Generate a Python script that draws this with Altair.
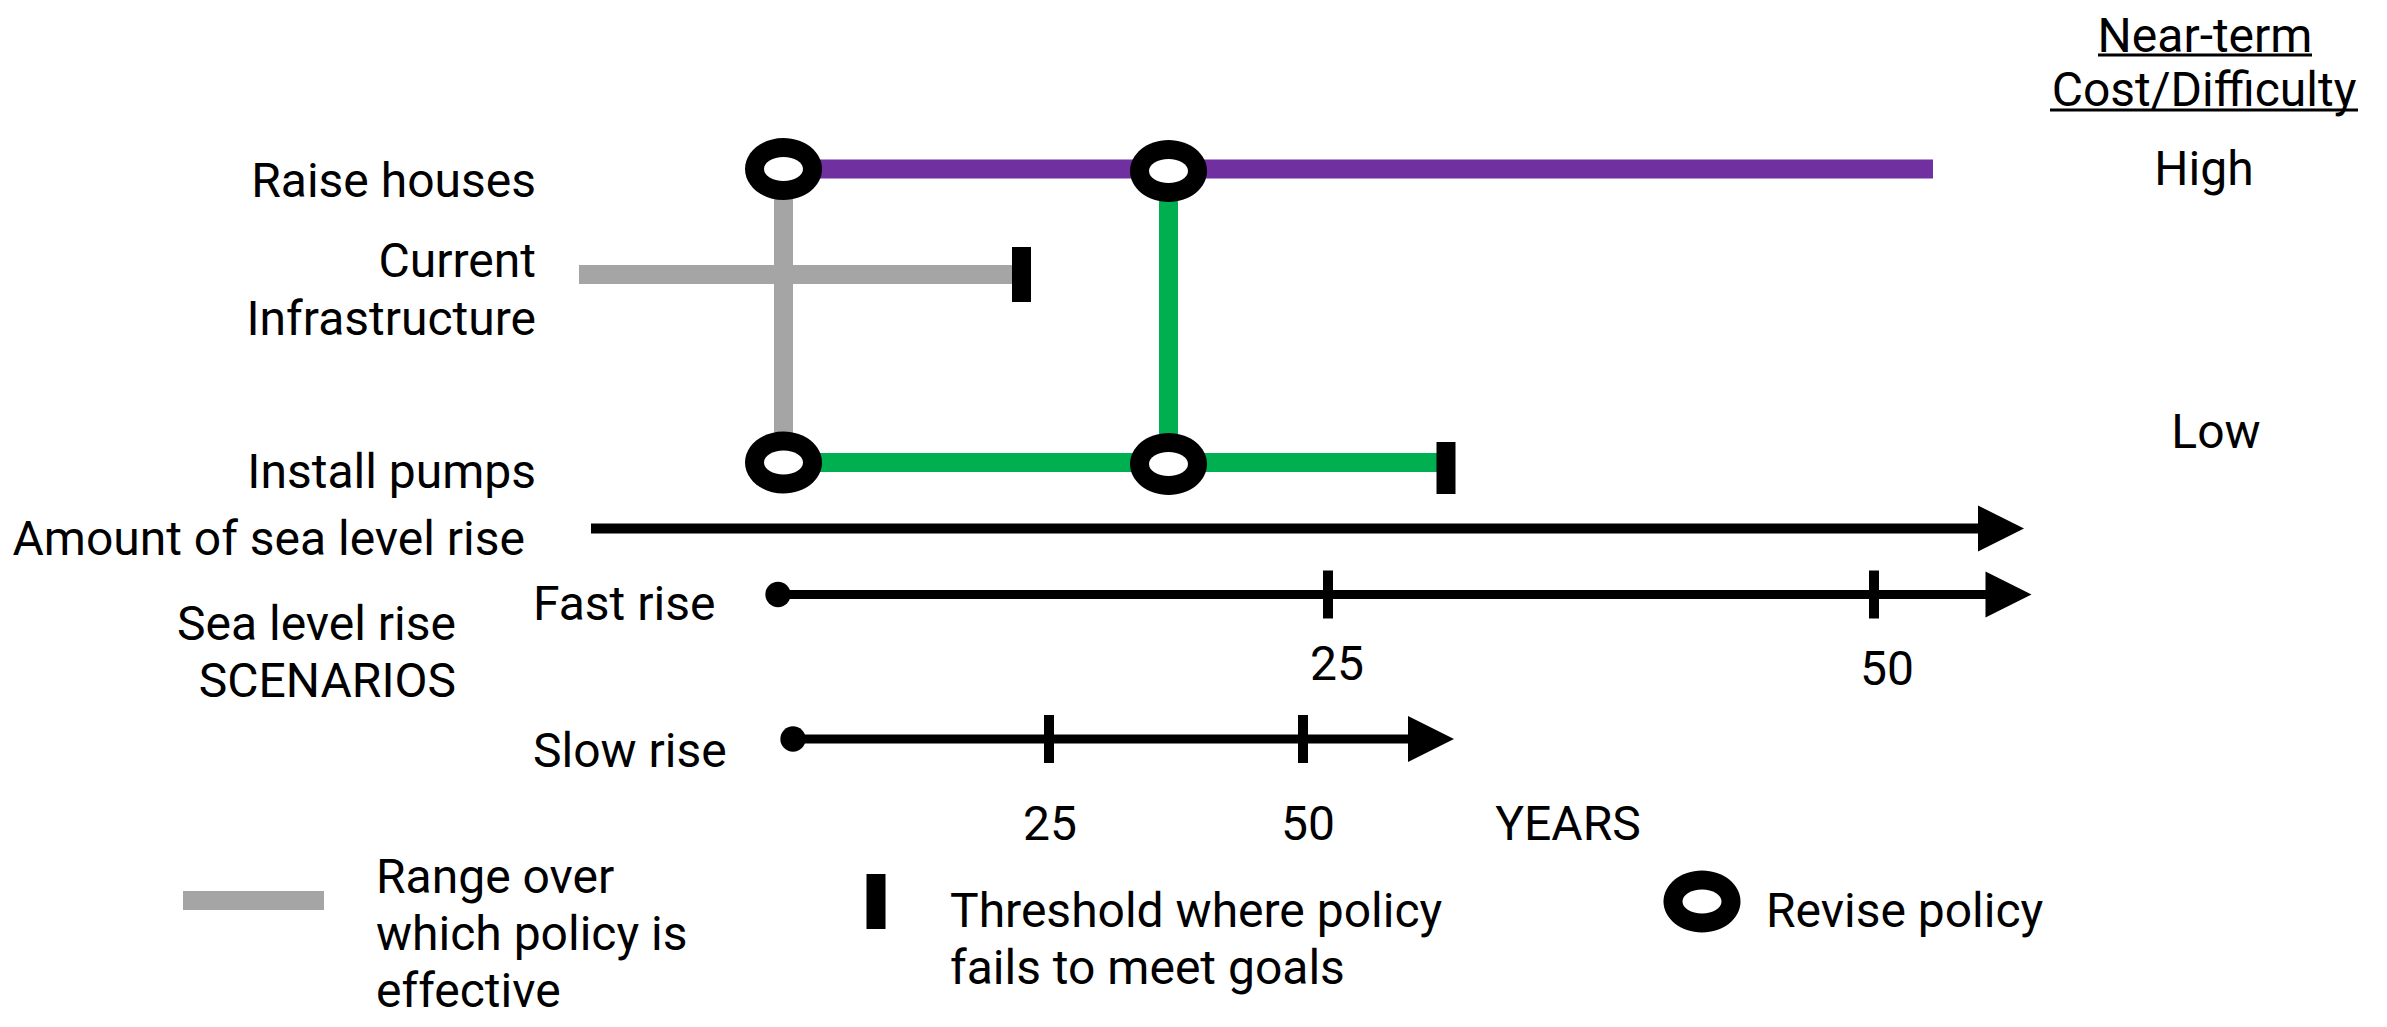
import altair as alt
import pandas as pd

# ---------------- data (diagram units: horizontal = amount of sea-level rise, vertical = pathway row) ----
# Policy pathways
policy_names = ["Raise houses", "Current Infrastructure", "Install pumps"]
policy_level = [169, 274.5, 462.5]
policy_start = [783.5, 579, 783.5]
policy_end = [1933, 1012, 1437]
policy_color = ["#7030A0", "#A5A5A5", "#00B050"]

# Transfers between pathways (vertical connectors)
transfer_at = [783.5, 1168.5]
transfer_from = [169, 170]
transfer_to = [462.5, 464]
transfer_color = ["#A5A5A5", "#00B050"]

# Thresholds where a policy fails (tipping points)
threshold_at = [1021.5, 1446]
threshold_top = [247, 442]
threshold_bottom = [302, 494]

# Revise-policy nodes
revise_x = [783.5, 1168.5, 783.5, 1168.5]
revise_y = [169, 171, 462.5, 464]

# Amount of sea-level rise axis
slr_start, slr_end, slr_level, slr_head = 591, 1982, 528.5, 2001

# Scenarios (start, end of shaft, arrow head, level, ticks, tick labels)
scen_names = ["Fast rise", "Slow rise"]
scen_start = [778, 793]
scen_end = [1990, 1412]
scen_head = [2008.5, 1431]
scen_level = [594.5, 739]
scen_tick_x = [[1328, 1874], [1049, 1303]]
scen_tick_half = 24
scen_tick_labels = [["25", "50"], ["25", "50"]]
scen_label_x = [[1337, 1887], [1050, 1308]]
scen_label_y = [[680, 685], [840, 840]]

# Legend items
legend_range_x = [183, 324]
legend_range_y = 900.5
legend_threshold_x = 876
legend_threshold_y = [874, 929]
legend_revise = [1702, 901.5]

# Text labels: (text, x, baseline y, align)
label_text = ["Raise houses", "Current", "Infrastructure", "Install pumps",
              "Amount of sea level rise", "Sea level rise", "SCENARIOS",
              "Fast rise", "Slow rise", "YEARS",
              "Near-term", "Cost/Difficulty", "High", "Low",
              "Range over", "which policy is", "effective",
              "Threshold where policy", "fails to meet goals", "Revise policy"]
label_x = [536, 536, 536, 536,
           525, 456, 456,
           533, 533, 1568,
           2205, 2204, 2204, 2216,
           376, 376, 376,
           950, 950, 1766]
label_y = [197, 277, 335, 488,
           555, 640, 697,
           620, 767, 840,
           52, 106, 185, 448,
           893, 950, 1007,
           927, 984, 927]
label_align = ["right", "right", "right", "right",
               "right", "right", "right",
               "left", "left", "center",
               "center", "center", "center", "center",
               "left", "left", "left",
               "left", "left", "left"]

# header underlines
underline_x0 = [2098, 2050]
underline_x1 = [2312, 2358]
underline_y = [55, 110]

# ---------------- build tables ----------------
rules = []
for s, e, lv, c in zip(policy_start, policy_end, policy_level, policy_color):
    rules.append(dict(x=s, x2=e, y=lv, y2=lv, c=c, w=19, o=1))
for at, a, b, c in zip(transfer_at, transfer_from, transfer_to, transfer_color):
    rules.append(dict(x=at, x2=at, y=a, y2=b, c=c, w=19, o=0))
for at, a, b in zip(threshold_at, threshold_top, threshold_bottom):
    rules.append(dict(x=at, x2=at, y=a, y2=b, c="#000000", w=19, o=3))
rules.append(dict(x=slr_start, x2=slr_end, y=slr_level, y2=slr_level, c="#000000", w=10, o=2))
for s, e, lv, ticks in zip(scen_start, scen_end, scen_level, scen_tick_x):
    rules.append(dict(x=s, x2=e, y=lv, y2=lv, c="#000000", w=9, o=2))
    for t in ticks:
        rules.append(dict(x=t, x2=t, y=lv - scen_tick_half, y2=lv + scen_tick_half, c="#000000", w=10, o=2))
# legend rules
rules.append(dict(x=legend_range_x[0], x2=legend_range_x[1], y=legend_range_y, y2=legend_range_y,
                  c="#A5A5A5", w=19, o=2))
rules.append(dict(x=legend_threshold_x, x2=legend_threshold_x, y=legend_threshold_y[0],
                  y2=legend_threshold_y[1], c="#000000", w=19, o=2))
for a, b, yy in zip(underline_x0, underline_x1, underline_y):
    rules.append(dict(x=a, x2=b, y=yy, y2=yy, c="#000000", w=3, o=2))
rules_df = pd.DataFrame(rules).sort_values("o")

nodes_df = pd.DataFrame({"x": revise_x + [legend_revise[0]], "y": revise_y + [legend_revise[1]]})
dots_df = pd.DataFrame({"x": scen_start, "y": scen_level})
heads_df = pd.DataFrame({"x": [slr_head] + scen_head, "y": [slr_level] + scen_level})

txt = pd.DataFrame({"t": label_text, "x": label_x, "y": label_y, "a": label_align})
tick_txt = []
for labs, xs_, ys_ in zip(scen_tick_labels, scen_label_x, scen_label_y):
    for l, xx, yy in zip(labs, xs_, ys_):
        tick_txt.append(dict(t=l, x=xx, y=yy, a="center"))
txt = pd.concat([txt, pd.DataFrame(tick_txt)], ignore_index=True)

# ---------------- scales ----------------
xs = alt.Scale(domain=[8, 2379], nice=False, zero=False)
ys = alt.Scale(domain=[8, 1019], nice=False, zero=False, reverse=True)
X = lambda f="x": alt.X(f"{f}:Q", scale=xs, axis=None)
Y = lambda f="y": alt.Y(f"{f}:Q", scale=ys, axis=None)


def ellipse(r):
    k = 0.5523
    return (f"M1,0 C1,{k*r:.4f} {k},{r} 0,{r} C{-k},{r} -1,{k*r:.4f} -1,0 "
            f"C-1,{-k*r:.4f} {-k},{-r} 0,{-r} C{k},{-r} 1,{-k*r:.4f} 1,0 Z")


rule_layer = alt.Chart(rules_df).mark_rule(strokeCap="butt").encode(
    x=X(), x2="x2:Q", y=Y(), y2="y2:Q",
    color=alt.Color("c:N", scale=None),
    strokeWidth=alt.StrokeWidth("w:Q", scale=None),
    order=alt.Order("o:Q"),
)

outer = alt.Chart(nodes_df).mark_point(shape=ellipse(0.805), size=77 * 77, filled=True,
                                        color="#000000", opacity=1, strokeWidth=0).encode(x=X(), y=Y())
inner = alt.Chart(nodes_df).mark_point(shape=ellipse(0.615), size=39 * 39, filled=True,
                                        color="#FFFFFF", opacity=1, strokeWidth=0).encode(x=X(), y=Y())
dots = alt.Chart(dots_df).mark_point(shape="circle", size=640, filled=True, color="#000000",
                                      opacity=1, strokeWidth=0).encode(x=X(), y=Y())
heads = alt.Chart(heads_df).mark_point(shape="M-1,-1L1,0L-1,1Z", size=46 * 46, filled=True,
                                        color="#000000", opacity=1, strokeWidth=0).encode(x=X(), y=Y())

text_layers = []
for al in ["left", "right", "center"]:
    text_layers.append(
        alt.Chart(txt[txt["a"] == al]).mark_text(
            align=al, baseline="alphabetic", font="Roboto", fontSize=48, color="#000000"
        ).encode(x=X(), y=Y(), text="t:N")
    )

chart = alt.layer(rule_layer, outer, inner, dots, heads, *text_layers).properties(
    width=2371, height=1011, padding=0, autosize=alt.AutoSizeParams(type="none"),
    background="#FFFFFF",
).configure_view(strokeWidth=0)

chart.save("out.html", embed_options={"renderer": "svg", "actions": False})
